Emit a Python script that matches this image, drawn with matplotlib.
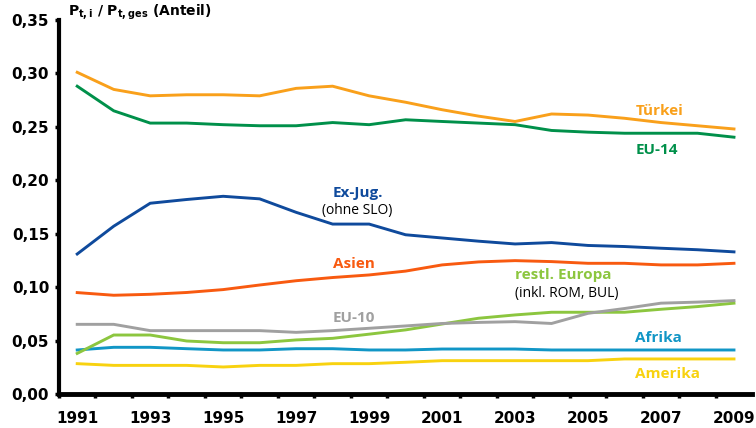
import matplotlib
matplotlib.use("Agg")
import matplotlib.pyplot as plt
import numpy as np

years = list(range(1991, 2010))
tuerkei = [0.301, 0.285, 0.279, 0.280, 0.280, 0.279, 0.286, 0.288, 0.279, 0.273,
           0.266, 0.260, 0.255, 0.262, 0.261, 0.258, 0.254, 0.251, 0.248]
eu14 = [0.288, 0.265, 0.2535, 0.2535, 0.252, 0.251, 0.251, 0.254, 0.252, 0.2566,
        0.255, 0.2535, 0.252, 0.2466, 0.245, 0.244, 0.244, 0.244, 0.2403]
exjug = [0.131, 0.157, 0.1785, 0.182, 0.185, 0.1826, 0.170, 0.159, 0.159, 0.149,
         0.146, 0.143, 0.1404, 0.1417, 0.139, 0.138, 0.1364, 0.135, 0.133]
asien = [0.0949, 0.0924, 0.0933, 0.095, 0.0977, 0.102, 0.106, 0.109, 0.1114, 0.115,
         0.1208, 0.1236, 0.1248, 0.1239, 0.1223, 0.1223, 0.1208, 0.1208, 0.1223]
eu10 = [0.0652, 0.0652, 0.0593, 0.0593, 0.0593, 0.0593, 0.0577, 0.0593, 0.0615, 0.0637,
        0.066, 0.067, 0.0677, 0.066, 0.0755, 0.080, 0.085, 0.086, 0.0874]
restl_europa = [0.038, 0.0552, 0.0552, 0.0496, 0.048, 0.048, 0.0506, 0.0521, 0.056, 0.060,
                0.0655, 0.0709, 0.074, 0.0765, 0.0765, 0.0765, 0.0793, 0.0818, 0.085]
afrika = [0.0412, 0.0437, 0.0437, 0.0424, 0.0412, 0.0412, 0.0424, 0.0424, 0.0412, 0.0412,
          0.0421, 0.0421, 0.0421, 0.0412, 0.0412, 0.0412, 0.0412, 0.0412, 0.0412]
amerika = [0.0284, 0.0268, 0.0268, 0.0268, 0.0253, 0.0268, 0.0268, 0.0284, 0.0284, 0.0297,
           0.0312, 0.0312, 0.0312, 0.0312, 0.0312, 0.0328, 0.0328, 0.0328, 0.0328]

yticks = [0.0, 0.05, 0.10, 0.15, 0.20, 0.25, 0.30, 0.35]
xtick_years = list(range(1991, 2010, 2))

c_tuerkei = "#F9A01B"
c_eu14 = "#00904A"
c_exjug = "#0F4A9C"
c_asien = "#F85A10"
c_eu10 = "#A0A0A0"
c_restl = "#8CC63F"
c_afrika = "#1196C6"
c_amerika = "#F8D20F"

fig = plt.figure(figsize=(7.56, 4.28), dpi=100)
ax = fig.add_axes([0.078, 0.0794, 0.917, 0.874])

series = [(amerika, c_amerika), (afrika, c_afrika), (restl_europa, c_restl), (eu10, c_eu10),
          (asien, c_asien), (exjug, c_exjug), (eu14, c_eu14), (tuerkei, c_tuerkei)]
for vals, col in series:
    ax.plot(years, vals, color=col, lw=2.1, solid_joinstyle="miter")

ax.set_xlim(1990.5, 2009.5)
ax.set_ylim(0, 0.35)
ax.set_yticks(yticks)
ax.set_yticklabels([f"{v:.2f}".replace(".", ",") for v in yticks])
ax.set_xticks(xtick_years)
ax.set_xticklabels([str(y) for y in xtick_years])
ax.set_xticks([y + 0.5 for y in range(1990, 2009)], minor=True)
ax.tick_params(axis="x", which="major", length=0, pad=12)
ax.tick_params(axis="x", which="minor", length=3, width=2.5, direction="out")
ax.tick_params(axis="y", which="major", length=3, width=2.5, direction="out", pad=4)
for lab in ax.get_xticklabels() + ax.get_yticklabels():
    lab.set_fontweight("bold")
    lab.set_fontsize(11)
    lab.set_family("DejaVu Sans")

for s in ["top", "right"]:
    ax.spines[s].set_visible(False)
ax.spines["left"].set_linewidth(3)
ax.spines["bottom"].set_linewidth(3.5)

lf = "Open Sans"
fig.text(0.09, 0.972, r"$\mathbf{P_{t,i}}$ / $\mathbf{P_{t,ges}}$ (Anteil)",
         fontsize=10, fontweight="bold", family="DejaVu Sans", va="center", ha="left")

def lbl(x, y, s, col, weight="bold"):
    ax.text(x, y, s, color=col, fontsize=11, fontweight=weight, family=lf,
            ha="left", va="center")

lbl(2006.3, 0.265, "Türkei", c_tuerkei)
lbl(2006.3, 0.228, "EU-14", c_eu14)
lbl(1998.0, 0.188, "Ex-Jug.", c_exjug)
ax.text(1997.7, 0.172, "(ohne SLO)", color="black", fontsize=10, family=lf, ha="left", va="center")
lbl(1998.0, 0.1215, "Asien", c_asien)
lbl(2003.0, 0.111, "restl. Europa", c_restl)
ax.text(2003.0, 0.0945, "(inkl. ROM, BUL)", color="black", fontsize=10, family=lf, ha="left", va="center")
lbl(1998.0, 0.0715, "EU-10", c_eu10)
lbl(2006.3, 0.0525, "Afrika", c_afrika)
lbl(2006.3, 0.0185, "Amerika", c_amerika)

fig.savefig("out.png", dpi=100)
